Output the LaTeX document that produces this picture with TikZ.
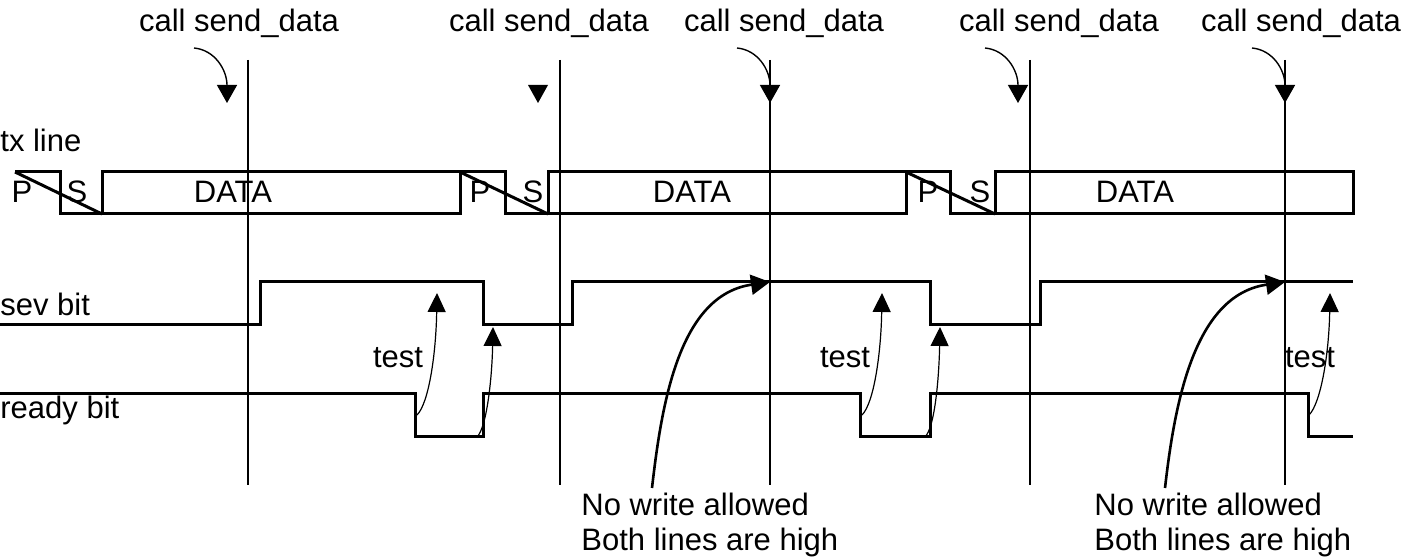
\documentclass[tikz,border=0pt]{standalone}
\usepackage{fontspec}
\setmainfont{Liberation Sans}
\usetikzlibrary{arrows.meta}

\begin{document}
\begin{tikzpicture}[x=0.5pt, y=-0.5pt,
  every node/.style={font=\fontsize{15.5}{17.5}\selectfont, inner sep=0pt},
  wave/.style={line width=1.5pt},
  marker/.style={line width=0.7pt},
  callarrow/.style={line width=0.7pt, -{Triangle[length=9pt,width=10pt]}},
  testarrow/.style={line width=0.6pt, -{Triangle[length=9.5pt,width=9pt]}},
  notearrow/.style={line width=1.3pt, -{Triangle[length=9.5pt,width=10pt]}}]
\useasboundingbox (0,0) rectangle (1412,560);

% instants where send_data is called
\foreach \t in {248,560,770,1030,1285}
  \draw[marker] (\t,60) -- (\t,485);
\foreach \n/\lx in {1/239,2/549,3/784,4/1059,5/1301}
  \node[anchor=base] (call\n) at (\lx,32) {call send\_data};
\foreach \n/\tx in {1/227,3/770,4/1018,5/1285} {
  \coordinate (from\n) at (\tx-33,48);
  \coordinate (to\n) at (\tx,103);
  \draw[callarrow] (from\n) .. controls +(21,2) and +(0,-33) .. (to\n);
}
\fill (528,85) -- (548,85) -- (538,103) -- cycle;

% tx line
\node[anchor=base west] (txlabel) at (0,152) {tx line};
\draw[wave] (15,172) -| (60,214) -- (460,214) |- (505,172) |- (906,214)
  |- (950,172) |- (1353,214) |- (995,172) -- (995,214);
\draw[wave] (102,214) |- (460,172);
\draw[wave] (548,214) |- (906,172);
\draw[wave] (15,172) -- (102,214) (460,172) -- (548,214) (906,172) -- (995,214);
\foreach \n/\px/\sx/\dx in {1/22/77/233,2/480/533/692,3/928/980/1135} {
  \node[anchor=base] (p\n) at (\px,203) {P};
  \node[anchor=base] (s\n) at (\sx,203) {S};
  \node[anchor=base] (data\n) at (\dx,203) {DATA};
}

% sev bit
\node[anchor=base west] (sevlabel) at (0,316) {sev bit};
\draw[wave] (0,325) -| (260,282) -| (483,325) -| (572,282) -| (930,325)
  -| (1040,282) -- (1353,282);

% ready bit
\node[anchor=base west] (readylabel) at (0,419) {ready bit};
\draw[wave] (0,394) -| (415,437) -| (483,394) -| (860,437) -| (930,394)
  -| (1308,437) -- (1353,437);

% test of the bits
\foreach \n/\lx in {1/398,2/845,3/1310}
  \node[anchor=base] (test\n) at (\lx,368) {test};
\foreach \n/\ax/\bx/\cx/\dx in {1/417/437/477/493,2/862/882/925/940} {
  \coordinate (rdlow\n) at (\ax,415);
  \coordinate (sevhigh\n) at (\bx,293);
  \coordinate (rdup\n) at (\cx,437);
  \coordinate (sevlow\n) at (\dx,327);
  \draw[testarrow] (rdlow\n) .. controls +(12,-12) and +(-1,60) .. (sevhigh\n);
  \draw[testarrow] (rdup\n) .. controls +(10,-10) and +(-1,50) .. (sevlow\n);
}
\coordinate (rdlow3) at (1309,415);
\coordinate (sevhigh3) at (1330,293);
\draw[testarrow] (rdlow3) .. controls +(12,-12) and +(-1,60) .. (sevhigh3);

% no write windows
\foreach \n/\sx/\hx in {1/652/770,2/1165/1285} {
  \coordinate (note\n) at (\sx,488);
  \coordinate (high\n) at (\hx,282);
  \draw[notearrow] (note\n) .. controls +(10,-88) and +(-90,13) .. (high\n);
  \node[anchor=north west, align=left] (nowrite\n) at (\sx-71,493)
    {No write allowed\\Both lines are high};
}
\end{tikzpicture}
\end{document}
